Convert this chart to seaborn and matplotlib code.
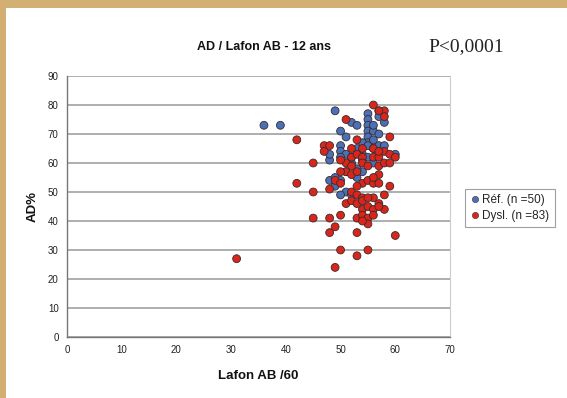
import matplotlib
matplotlib.use("Agg")
import matplotlib.pyplot as plt
import matplotlib.patches as mpatches
import seaborn as sns
import pandas as pd

# ---- data ----
ref_x = [36, 39, 49, 50, 51, 52, 53, 55, 55, 55, 55, 55, 55, 54, 57, 57, 56, 57, 60, 48,
         50, 50, 51, 50, 48, 55, 48, 49, 50, 53, 54, 52, 56, 51, 50, 52, 49, 54, 56, 53,
         57, 56, 54, 55, 58, 53, 51, 56, 58, 52]
ref_y = [73, 73, 78, 71, 69, 74, 73, 77, 75, 73, 71, 69, 67, 67, 78, 76, 71, 70, 63, 61,
         66, 64, 63, 62, 63, 66, 54, 55, 54, 55, 57, 60, 60, 50, 49, 49, 52, 63, 65, 65,
         66, 68, 61, 62, 66, 58, 57, 73, 74, 62]
dys_x = [31, 42, 45, 42, 45, 45, 48, 48, 49, 50, 50, 49, 53, 55, 53, 53, 60, 47, 47, 48,
         51, 56, 58, 58, 59, 48, 59, 58, 57, 58, 54, 55, 56, 54, 55, 56, 55, 54, 57, 52,
         54, 56, 58, 52, 53, 54, 56, 57, 59, 60, 51, 52, 54, 55, 57, 58, 51, 52, 53, 57,
         49, 50, 54, 55, 56, 57, 52, 53, 54, 51, 52, 53, 54, 56, 59, 57, 55, 53, 50, 53,
         57, 56, 50]
dys_y = [27, 68, 60, 53, 50, 41, 41, 36, 38, 42, 30, 24, 28, 30, 36, 41, 35, 66, 64, 66,
         75, 80, 78, 76, 69, 51, 52, 49, 46, 44, 44, 45, 44, 42, 41, 42, 39, 40, 45, 65,
         65, 65, 64, 62, 63, 62, 62, 62, 63, 62, 60, 59, 60, 59, 59, 60, 57, 56, 57, 56,
         54, 53, 53, 54, 53, 53, 50, 49, 48, 46, 47, 46, 47, 48, 60, 64, 48, 52, 57, 68,
         78, 55, 61]
groups = ["Réf. (n =50)", "Dysl. (n =83)"]
title = "AD / Lafon AB - 12 ans"
x_label = "Lafon AB /60"
y_label = "AD%"
p_text = "P<0,0001"

df = pd.DataFrame({
    "x": ref_x + dys_x,
    "y": ref_y + dys_y,
    "g": [groups[0]] * len(ref_x) + [groups[1]] * len(dys_x),
})

sns.set_theme(style="white")
plt.rcParams["font.family"] = ["Liberation Sans", "DejaVu Sans"]

fig = plt.figure(figsize=(5.67, 3.98), dpi=100)
fig.patch.set_facecolor("white")
# tan frame (top and left)
tan = "#D4AF73"
fig.patches.append(mpatches.Rectangle((0, 1 - 8 / 398), 1, 8 / 398, transform=fig.transFigure,
                                      facecolor=tan, edgecolor="none", zorder=0))
fig.patches.append(mpatches.Rectangle((0, 0), 6 / 567, 1, transform=fig.transFigure,
                                      facecolor=tan, edgecolor="none", zorder=0))

ax = fig.add_axes([67 / 567, 1 - 337 / 398, (450 - 67) / 567, (337 - 76) / 398])
palette = {groups[0]: "#4A70B8", groups[1]: "#D9261C"}
sns.scatterplot(data=df, x="x", y="y", hue="g", hue_order=groups, palette=palette,
                s=32, edgecolor="#3a2a2a", linewidth=0.6, ax=ax, legend=False, zorder=3)

ax.set_xlim(0, 70)
ax.set_ylim(0, 90)
ax.set_xticks(range(0, 71, 10))
ax.set_yticks(range(0, 91, 10))
ax.tick_params(axis="both", labelsize=7, colors="#777777", length=3, width=0.7,
               direction="out", pad=3)
ax.tick_params(axis="both", labelcolor="#222222")
ax.yaxis.grid(True, color="#999999", linewidth=1.1)
ax.set_axisbelow(True)
for side in ["left", "bottom"]:
    ax.spines[side].set_color("#777777")
    ax.spines[side].set_linewidth(1.0)
ax.spines["right"].set_color("#cccccc")
ax.spines["right"].set_linewidth(0.8)
ax.spines["top"].set_visible(False)
ax.set_xlabel("")
ax.set_ylabel("")

fig.text(258 / 567, 1 - 376 / 398, x_label, ha="center", va="center",
         fontsize=9.5, fontweight="bold", color="#111111")
fig.text(33 / 567, 1 - 207 / 398, y_label, ha="center", va="center", rotation=90,
         fontsize=9.5, fontweight="bold", color="#111111")
fig.text(264 / 567, 1 - 47 / 398, title, ha="center", va="center",
         fontsize=9, fontweight="bold", color="#111111")
fig.text(466 / 567, 1 - 47 / 398, p_text, ha="center", va="center",
         fontsize=14, family=["Liberation Serif", "DejaVu Serif"], color="#222222")

handles = [plt.Line2D([], [], marker="o", linestyle="", markersize=4.5,
                      markerfacecolor=palette[g], markeredgecolor="#3a2a2a",
                      markeredgewidth=0.4, label=g) for g in groups]
leg = fig.legend(handles=handles, loc="center", bbox_to_anchor=(510 / 567, 1 - 208 / 398),
                 fontsize=8.5, frameon=True, fancybox=False, handletextpad=0.2,
                 borderpad=0.45, labelspacing=0.3, handlelength=0.8, borderaxespad=0)
leg.get_frame().set_edgecolor("#888888")
leg.get_frame().set_linewidth(0.8)

fig.savefig("out.png", dpi=100)
